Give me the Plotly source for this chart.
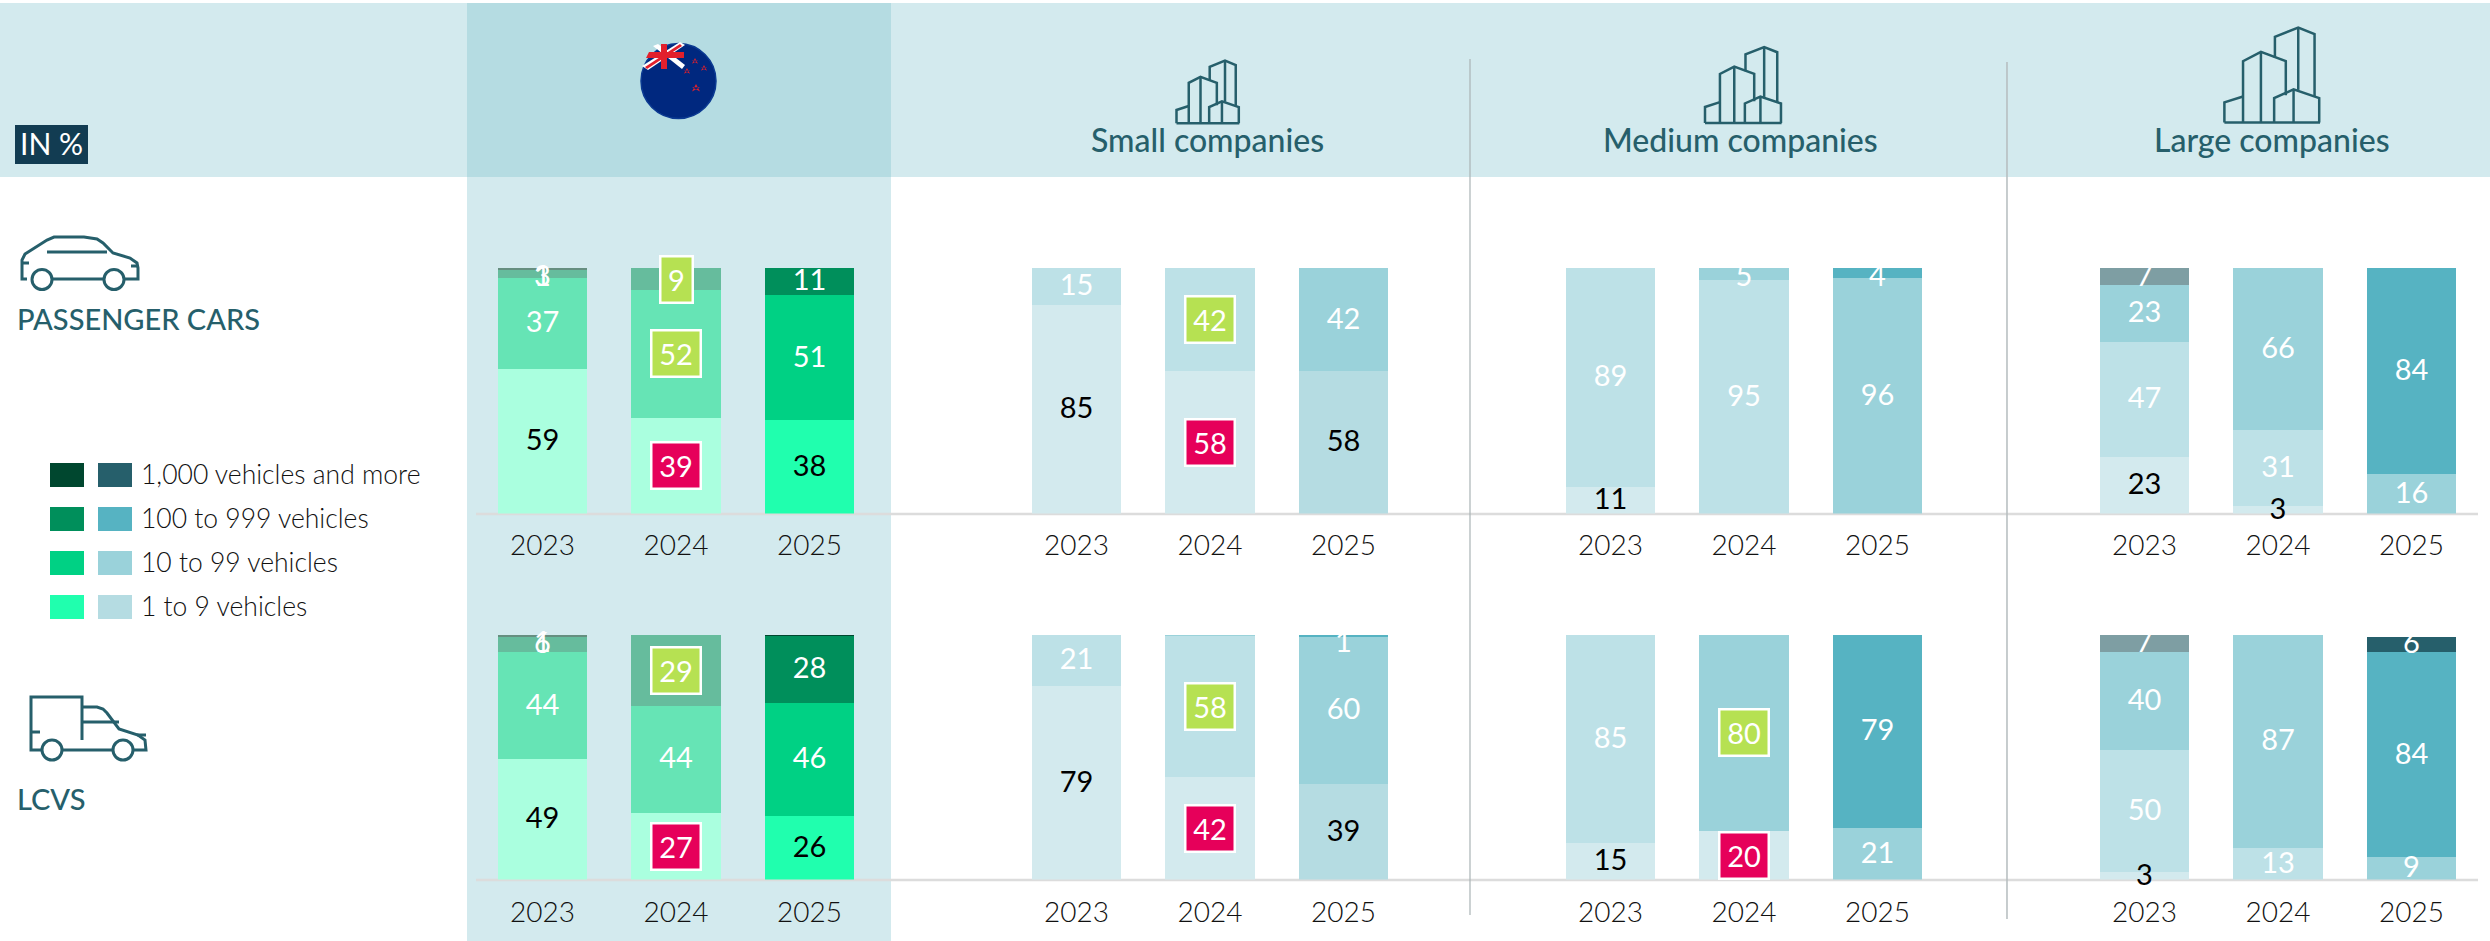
import plotly.graph_objects as go

W, H = 2490, 941
YEARS = ["2023", "2024", "2025"]
BANDS = ["1 to 9 vehicles", "10 to 99 vehicles", "100 to 999 vehicles", "1,000 vehicles and more"]
PANELS = ["nz", "small", "medium", "large"]
HEADERS = ["Small companies", "Medium companies", "Large companies"]

# Passenger cars: one list per band, one value per year
PC_NZ_B1 = [59, 39, 38]
PC_NZ_B2 = [37, 52, 51]
PC_NZ_B3 = [3, 9, 11]
PC_NZ_B4 = [1, 0, 0]
PC_SMALL_B1 = [85, 58, 58]
PC_SMALL_B2 = [15, 42, 42]
PC_SMALL_B3 = [0, 0, 0]
PC_SMALL_B4 = [0, 0, 0]
PC_MEDIUM_B1 = [11, 0, 0]
PC_MEDIUM_B2 = [89, 95, 96]
PC_MEDIUM_B3 = [0, 5, 4]
PC_MEDIUM_B4 = [0, 0, 0]
PC_LARGE_B1 = [23, 3, 0]
PC_LARGE_B2 = [47, 31, 16]
PC_LARGE_B3 = [23, 66, 84]
PC_LARGE_B4 = [7, 0, 0]

# Light commercial vehicles
LCV_NZ_B1 = [49, 27, 26]
LCV_NZ_B2 = [44, 44, 46]
LCV_NZ_B3 = [6, 29, 27.6]
LCV_NZ_B4 = [1, 0, 0.4]
LCV_SMALL_B1 = [79, 42, 39]
LCV_SMALL_B2 = [21, 57.6, 60]
LCV_SMALL_B3 = [0, 0.4, 1]
LCV_SMALL_B4 = [0, 0, 0]
LCV_MEDIUM_B1 = [15, 20, 0]
LCV_MEDIUM_B2 = [85, 0, 21]
LCV_MEDIUM_B3 = [0, 80, 79]
LCV_MEDIUM_B4 = [0, 0, 0]
LCV_LARGE_B1 = [3, 0, 0]
LCV_LARGE_B2 = [50, 13, 9]
LCV_LARGE_B3 = [40, 87, 84]
LCV_LARGE_B4 = [7, 0, 6]

ROWS = [
    [[PC_NZ_B1, PC_NZ_B2, PC_NZ_B3, PC_NZ_B4],
     [PC_SMALL_B1, PC_SMALL_B2, PC_SMALL_B3, PC_SMALL_B4],
     [PC_MEDIUM_B1, PC_MEDIUM_B2, PC_MEDIUM_B3, PC_MEDIUM_B4],
     [PC_LARGE_B1, PC_LARGE_B2, PC_LARGE_B3, PC_LARGE_B4]],
    [[LCV_NZ_B1, LCV_NZ_B2, LCV_NZ_B3, LCV_NZ_B4],
     [LCV_SMALL_B1, LCV_SMALL_B2, LCV_SMALL_B3, LCV_SMALL_B4],
     [LCV_MEDIUM_B1, LCV_MEDIUM_B2, LCV_MEDIUM_B3, LCV_MEDIUM_B4],
     [LCV_LARGE_B1, LCV_LARGE_B2, LCV_LARGE_B3, LCV_LARGE_B4]],
]

# (row, panel, year index, band, colour) of the boxed labels
GREEN, RED = "#b6e152", "#e6005a"
HIGHLIGHTS = [
    (0, 0, 1, 0, RED), (0, 0, 1, 1, GREEN), (0, 0, 1, 2, GREEN),
    (0, 1, 1, 0, RED), (0, 1, 1, 1, GREEN),
    (1, 0, 1, 0, RED), (1, 0, 1, 2, GREEN),
    (1, 1, 1, 0, RED), (1, 1, 1, 1, GREEN),
    (1, 2, 1, 0, RED), (1, 2, 1, 2, GREEN),
]

# Colours: [full (2025), light (2023/2024)] per band
GREEN_FULL = ["#20ffae", "#00d184", "#008f5b", "#00472f"]
GREEN_LIGHT = ["#aaffdf", "#66e4b5", "#66bc9d", "#668f80"]
BLUE_FULL = ["#b5dce2", "#9ad2da", "#56b3c2", "#265f6b"]
BLUE_LIGHT = ["#d3eaee", "#bde1e7", "#9ad2da", "#7e9ea3"]
TEAL = "#265f6b"
BG_LIGHT = "#d3eaee"
BG_DARK = "#b5dce2"
FONT = "Lato"
LABEL_SIZE = 29
# Label placement in data units: slightly above segment centres, kept inside the bar,
# plus the correction for where the text's glyphs sit relative to its anchor.
LABEL_LIFT, LABEL_MIN, LABEL_MAX, GLYPH_SHIFT = 0.9, 2.4, 97.3, -1.6


def px(x):
    return x / W


def py(y):
    return 1 - y / H


def path(points, close=False):
    s = "M" + " L".join(f"{px(x):.5f},{py(y):.5f}" for x, y in points)
    return s + (" Z" if close else "")


shapes, annotations = [], []


def rect(x0, y0, x1, y1, color, layer="below"):
    shapes.append(dict(type="rect", xref="paper", yref="paper", x0=px(x0), x1=px(x1), y0=py(y0), y1=py(y1),
                       fillcolor=color, line_width=0, layer=layer))


def line(points, color=TEAL, width=3):
    shapes.append(dict(type="path", xref="paper", yref="paper", path=path(points),
                       line=dict(color=color, width=width), layer="above"))


def poly(points, color):
    shapes.append(dict(type="path", xref="paper", yref="paper", path=path(points, True),
                       fillcolor=color, line_width=0, layer="above"))


def circle(cx, cy, rx, ry, fill=None, color=TEAL, width=3):
    shapes.append(dict(type="circle", xref="paper", yref="paper", x0=px(cx - rx), x1=px(cx + rx),
                       y0=py(cy + ry), y1=py(cy - ry), fillcolor=fill or "rgba(0,0,0,0)",
                       line=dict(color=color, width=width), layer="above"))


def text(x, y, s, size, color, anchor="left", weight=400):
    annotations.append(dict(xref="paper", yref="paper", x=px(x), y=py(y), text=s, showarrow=False,
                            xanchor=anchor, yanchor="middle",
                            font=dict(family=FONT, size=size, color=color, weight=weight)))


# Page furniture
rect(0, 3, W, 177, BG_LIGHT)
rect(467, 177, 891, 941, BG_LIGHT)
rect(467, 3, 891, 177, BG_DARK)
for yb in (514, 880):
    shapes.append(dict(type="path", xref="paper", yref="paper", path=path([(476, yb), (2478, yb)]),
                       line=dict(color="#dcdcdc", width=2.5), layer="below"))
line([(1470, 59), (1470, 915)], "#a9b3b5", 1.2)
line([(2007, 62), (2007, 919)], "#b5bcbe", 1.5)

# IN % tag
rect(15, 125, 88, 164, "#123c52")
text(51.5, 143, "IN %", 30, "white", "center")

# Row headings
text(15, 318, "PASSENGER CARS", 29, TEAL, weight=500)
text(15, 798, "LCVS", 29, TEAL, weight=500)

# Legend
LEGEND_Y = [475, 519, 563, 607]
for band, yc in zip(reversed(range(4)), LEGEND_Y):
    rect(50, yc - 12, 84, yc + 12, GREEN_FULL[band])
    rect(98, yc - 12, 132, yc + 12, BLUE_FULL[band])
    text(138.5, yc - 1, BANDS[band], 26.5, "#111111", weight=300)

# Header titles
for cx, s in zip((1207, 1740, 2272), HEADERS):
    text(cx, 140, s, 32, TEAL, "center", weight=500)

# Car icon
line([(27, 279), (22, 279), (22, 260), (25, 254), (47, 240), (54, 237), (84, 237), (97, 239), (103, 243),
      (113, 253), (130, 258), (137, 263), (138, 268), (138, 279), (125, 279)])
line([(52, 279), (103, 279)])
line([(47, 252), (107, 252)])
line([(22, 263), (29, 263)])
line([(131, 266), (138, 266)])
circle(42, 279.5, 10, 10)
circle(114, 279.5, 10, 10)

# Van icon
line([(41, 750), (31, 750), (31, 697), (82, 697), (82, 740)])
line([(82, 707), (97, 707), (103, 709), (107, 713), (119, 729), (138, 735), (145, 740), (146, 750), (134, 750)])
line([(82, 722), (119, 722)])
line([(62, 750), (113, 750)])
line([(31, 732), (40, 732)])
line([(137, 735), (146, 735)])
circle(52, 750, 10, 10)
circle(123, 750, 10, 10)

# Building icons
BUILDING = [
    [(0, 175), (123, 175)],
    [(0, 175), (0, 138), (24, 127)],
    [(24, 175), (24, 62), (47, 45), (79, 62), (79, 125)],
    [(47, 45), (47, 175)],
    [(65, 56), (65, 17), (95, 0), (116, 12), (116, 126)],
    [(95, 0), (95, 115)],
    [(64, 175), (64, 130), (89, 114), (122, 130), (122, 175)],
    [(89, 114), (89, 175)],
]
for x0, x1, y0, y1 in ((1176.5, 1239.3, 60.7, 123.2), (1705, 1781.6, 47, 123), (2224.4, 2320, 27.5, 122.5)):
    for seg in BUILDING:
        line([(x0 + u / 123 * (x1 - x0), y0 + v / 175 * (y1 - y0)) for u, v in seg], TEAL, 2.5)

# New Zealand flag
circle(678.5, 81, 37.5, 37.5, "#00287f", "#0b3a92", 1.5)
poly([(642, 66), (680, 42), (685, 45), (648, 70)], "white")
poly([(653, 46), (658, 44), (685, 65), (682, 69)], "white")
poly([(645, 67), (680, 44), (682, 46), (647, 69)], "#e2202c")
poly([(649, 52), (684, 52), (684, 58), (646, 58)], "#e2202c")
poly([(661, 44), (667, 44), (667, 69), (661, 69)], "#e2202c")
for sx, sy, sr in ((695, 61, 3), (704, 68, 3), (687, 71, 3), (696, 88, 4)):
    poly([(sx, sy - sr), (sx + sr, sy + sr * 0.9), (sx - sr, sy - sr * 0.2), (sx + sr, sy - sr * 0.2),
          (sx - sr, sy + sr * 0.9)], "#e2202c")

# Charts
FIRST_CENTER, STEP, PANEL_STEP = 542.5, 133.5, 534
ROW_PX = [(268, 513.5), (634.5, 879.5)]
fig = go.Figure()
layout_axes = {}
boxed = {(r, p, i, b): c for r, p, i, b, c in HIGHLIGHTS}

for r, row in enumerate(ROWS):
    top, bottom = ROW_PX[r]
    for p, panel in enumerate(row):
        n = r * 4 + p + 1
        suffix = "" if n == 1 else str(n)
        left = FIRST_CENTER + p * PANEL_STEP - STEP / 2
        layout_axes[f"xaxis{suffix}"] = dict(
            domain=[px(left), px(left + 3 * STEP)], anchor=f"y{suffix}", type="category",
            categoryorder="array", categoryarray=YEARS, range=[-0.5, 2.5],
            showgrid=False, zeroline=False, showline=False, ticks="", ticklabelstandoff=12 + r,
            tickfont=dict(family=FONT, size=28, color="#111111", weight=300), fixedrange=True)
        layout_axes[f"yaxis{suffix}"] = dict(
            domain=[py(bottom), py(top)], anchor=f"x{suffix}", range=[0, 100], visible=False, fixedrange=True)
        for b, values in enumerate(panel):
            base = GREEN_FULL if p == 0 else BLUE_FULL
            light = GREEN_LIGHT if p == 0 else BLUE_LIGHT
            fig.add_trace(go.Bar(
                x=YEARS, y=values, name=BANDS[b], xaxis=f"x{suffix}", yaxis=f"y{suffix}",
                marker=dict(color=[light[b], light[b], base[b]], line_width=0),
                hoverinfo="skip", showlegend=False, width=0.667))
        # Value labels sit above every bar segment of the subplot
        for b, values in enumerate(panel):
            mids, labels = [], []
            for i, v in enumerate(values):
                mid = sum(panel[k][i] for k in range(b)) + v / 2
                if (r, p, i, b) in boxed:
                    annotations.append(dict(
                        xref=f"x{suffix}", yref=f"y{suffix}", x=i, y=mid, text=str(round(v)),
                        showarrow=False, xanchor="center", yanchor="middle",
                        width=30 if round(v) < 10 else 47, height=44, align="center", valign="middle",
                        bgcolor=boxed[(r, p, i, b)], bordercolor="white", borderwidth=2.5, borderpad=0,
                        font=dict(family=FONT, size=LABEL_SIZE, color="white")))
                    labels.append("")
                else:
                    labels.append("" if round(v) < 1 else str(round(v)))
                mids.append(max(LABEL_MIN, min(LABEL_MAX, mid + LABEL_LIFT)) + GLYPH_SHIFT)
            fig.add_trace(go.Scatter(
                x=YEARS, y=mids, mode="text", text=labels, textposition="middle center",
                xaxis=f"x{suffix}", yaxis=f"y{suffix}", cliponaxis=False, hoverinfo="skip", showlegend=False,
                textfont=dict(family=FONT, size=LABEL_SIZE, color="black" if b == 0 else "white")))

fig.update_layout(
    width=W, height=H, margin=dict(l=0, r=0, t=0, b=0), autosize=False,
    paper_bgcolor="white", plot_bgcolor="rgba(0,0,0,0)", barmode="stack", showlegend=False,
    shapes=shapes, annotations=annotations, **layout_axes)

fig.write_html("out.html", config=dict(displayModeBar=False, responsive=False),
               post_script="document.body.style.margin='0';document.body.style.overflow='hidden';")
